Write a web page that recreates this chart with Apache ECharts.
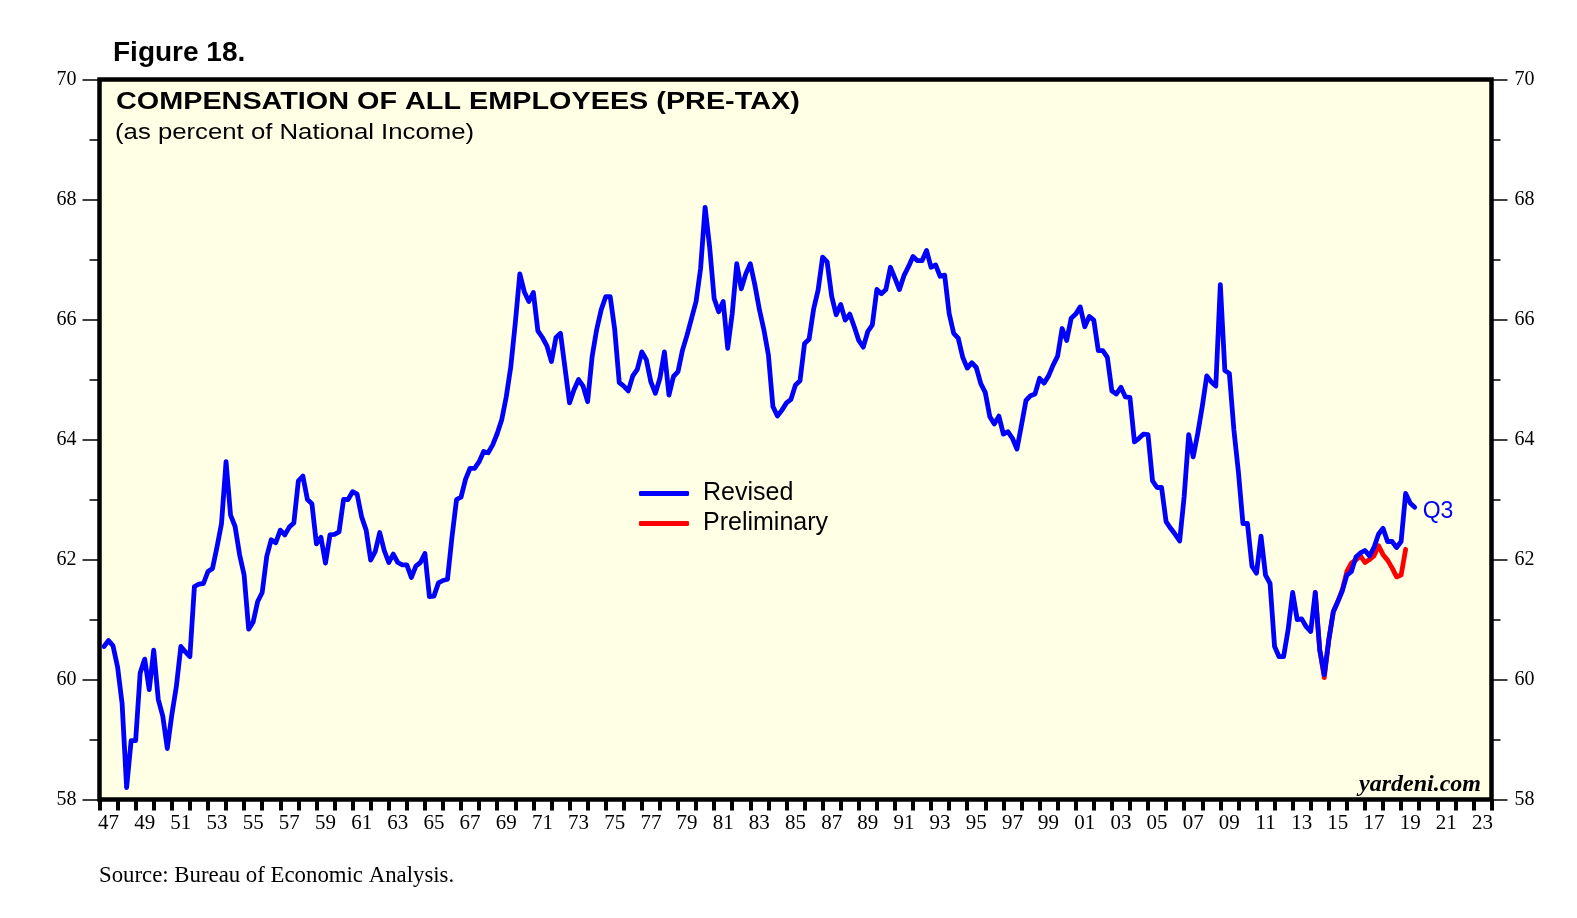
<!DOCTYPE html>
<html><head><meta charset="utf-8">
<script src="https://cdn.jsdelivr.net/npm/echarts@6/dist/echarts.min.js"></script>
<style>html,body{margin:0;padding:0;background:#fff}#c{width:1577px;height:918px}</style>
</head><body><div id="c"></div>
<script>
// Quarterly compensation of employees as % of national income
const startYear = 1947;
const rev1940s = [
  60.55, 60.65, 60.56, 60.21,
  59.60, 58.20, 58.98, 58.98,
  60.11, 60.34, 59.83, 60.49
];
const rev1950s = [
  59.67, 59.39, 58.85, 59.41,
  59.88, 60.55, 60.46, 60.38,
  61.55, 61.59, 61.60, 61.80,
  61.85, 62.21, 62.60, 63.63,
  62.74, 62.55, 62.08, 61.74,
  60.84, 60.96, 61.30, 61.45,
  62.05, 62.33, 62.28, 62.49,
  62.41, 62.54, 62.61, 63.31,
  63.39, 63.00, 62.93, 62.26,
  62.37, 61.94, 62.41, 62.42
];
const rev1960s = [
  62.46, 63.00, 63.00, 63.13,
  63.09, 62.71, 62.49, 61.99,
  62.13, 62.45, 62.15, 61.95,
  62.09, 61.95, 61.91, 61.91,
  61.70, 61.89, 61.95, 62.10,
  61.38, 61.39, 61.61, 61.65,
  61.67, 62.38, 63.00, 63.04,
  63.34, 63.52, 63.52, 63.63,
  63.80, 63.78, 63.91, 64.10,
  64.33, 64.71, 65.21, 65.94
];
const rev1970s = [
  66.76, 66.46, 66.30, 66.45,
  65.81, 65.70, 65.56, 65.30,
  65.70, 65.77, 65.19, 64.61,
  64.83, 65.00, 64.89, 64.63,
  65.38, 65.83, 66.16, 66.38,
  66.38, 65.83, 64.95, 64.89,
  64.81, 65.06, 65.17, 65.46,
  65.33, 64.96, 64.77, 65.02,
  65.46, 64.74, 65.05, 65.13,
  65.49, 65.74, 66.02, 66.30
];
const rev1980s = [
  66.85, 67.87, 67.21, 66.35,
  66.13, 66.30, 65.52, 66.10,
  66.93, 66.51, 66.76, 66.93,
  66.58, 66.17, 65.83, 65.41,
  64.55, 64.39, 64.49, 64.61,
  64.67, 64.91, 64.98, 65.60,
  65.67, 66.17, 66.49, 67.04,
  66.96, 66.39, 66.08, 66.25,
  65.99, 66.09, 65.88, 65.65,
  65.54, 65.80, 65.91, 66.50
];
const rev1990s = [
  66.43, 66.50, 66.87, 66.69,
  66.50, 66.73, 66.88, 67.05,
  66.98, 66.98, 67.15, 66.87,
  66.91, 66.72, 66.74, 66.10,
  65.77, 65.69, 65.37, 65.19,
  65.28, 65.20, 64.93, 64.78,
  64.38, 64.26, 64.39, 64.09,
  64.13, 64.02, 63.84, 64.24,
  64.65, 64.73, 64.76, 65.02,
  64.94, 65.06, 65.24, 65.39
];
const rev2000s = [
  65.85, 65.65, 66.02, 66.09,
  66.21, 65.88, 66.05, 65.99,
  65.48, 65.48, 65.37, 64.81,
  64.76, 64.87, 64.71, 64.70,
  63.96, 64.02, 64.09, 64.08,
  63.31, 63.20, 63.20, 62.63,
  62.52, 62.42, 62.31, 63.05,
  64.08, 63.71, 64.10, 64.55,
  65.06, 64.96, 64.89, 66.58,
  65.15, 65.10, 64.16, 63.46
];
const rev2010s = [
  62.60, 62.60, 61.89, 61.77,
  62.39, 61.74, 61.60, 60.55,
  60.38, 60.38, 60.83, 61.45,
  61.00, 61.01, 60.88, 60.80,
  61.45, 60.49, 60.08, 60.66,
  61.13, 61.30, 61.48, 61.74,
  61.80, 62.04, 62.11, 62.15,
  62.06, 62.20, 62.42, 62.52,
  62.30, 62.30, 62.20, 62.30,
  63.10, 62.94, 62.87
];
// Preliminary estimates, starting 2014 Q1
const prelimStart = { year: 2014, quarter: 1 };
const prelim = [
  61.45, 60.49, 60.03, 60.66,
  61.13, 61.30, 61.50, 61.80,
  61.94, 61.99, 62.06, 61.95,
  62.00, 62.06, 62.23, 62.08,
  61.99, 61.86, 61.71, 61.74,
  62.17
];
const firstTickYear = 1947, lastTickYear = 2023;
const yMin = 58, yMax = 70, yStep = 2;

const revised = [].concat(rev1940s, rev1950s, rev1960s, rev1970s, rev1980s, rev1990s, rev2000s, rev2010s);
const tickYears = [];
for (let y = firstTickYear; y <= lastTickYear; y++) tickYears.push(String(y));

// position each quarter at the end of its quarter on a year-valued axis
function quarterPoints(vals, y0, q0) {
  return vals.map((v, i) => {
    const k = (q0 - 1) + i;
    return [y0 + Math.floor(k / 4) + ((k % 4) + 1) / 4, v];
  });
}
const revPts = quarterPoints(revised, startYear, 1);
const prePts = quarterPoints(prelim, prelimStart.year, prelimStart.quarter);

const SERIF = 'Liberation Serif';
const SANS = 'Liberation Sans';

const chart = echarts.init(document.getElementById('c'), null, { renderer: 'canvas' });
const yAxisBase = (pos, tickLen, minorLen) => ({
  type: 'value', min: yMin, max: yMax, interval: yStep, position: pos,
  axisLine: { show: false },
  axisTick: { show: true, length: tickLen, lineStyle: { color: '#000', width: 1.5 } },
  minorTick: { show: true, splitNumber: 2, length: minorLen, lineStyle: { color: '#000', width: 1.5 } },
  axisLabel: { fontFamily: SERIF, fontSize: 20, color: '#000', margin: 23 },
  splitLine: { show: false }, minorSplitLine: { show: false }
});

chart.setOption({
  backgroundColor: '#ffffff',
  animation: false,
  title: [
    { text: 'Figure 18.', left: 113, top: 39, padding: 0,
      textStyle: { fontFamily: SANS, fontWeight: 'bold', fontSize: 28, color: '#000' } },
    { text: 'Source: Bureau of Economic Analysis.', left: 99, top: 865, padding: 0,
      textStyle: { fontFamily: SERIF, fontWeight: 'normal', fontSize: 22.8, color: '#000' } },
    { text: 'yardeni.com', right: 96, top: 773, padding: 0,
      textStyle: { fontFamily: SERIF, fontWeight: 'bold', fontStyle: 'italic', fontSize: 24, color: '#000' } }
  ],
  graphic: [
    { type: 'text', x: 116, y: 90, scaleX: 1.2, z: 10,
      style: { text: 'COMPENSATION OF ALL EMPLOYEES (PRE-TAX)', font: 'bold 24px "Liberation Sans"',
               fill: '#000', textVerticalAlign: 'top', verticalAlign: 'top' } },
    { type: 'text', x: 115, y: 122, scaleX: 1.17, z: 10,
      style: { text: '(as percent of National Income)', font: '22px "Liberation Sans"',
               fill: '#000', textVerticalAlign: 'top', verticalAlign: 'top' } }
  ],
  legend: {
    data: ['Revised', 'Preliminary'],
    orient: 'vertical', left: 639, top: 481,
    icon: 'roundRect', itemWidth: 50, itemHeight: 5, itemGap: 5,
    padding: 0,
    textStyle: { fontFamily: SANS, fontSize: 25, color: '#000', padding: [0, 0, 0, 9] }
  },
  grid: {
    left: 99.5, right: 85.5, top: 79.5, bottom: 118.5,
    show: true, backgroundColor: '#FFFFE6', borderColor: '#000', borderWidth: 4.5,
    containLabel: false
  },
  xAxis: [
    { type: 'category', data: tickYears, boundaryGap: true, position: 'bottom',
      axisLine: { show: false },
      axisTick: { show: true, interval: 0, length: 11, lineStyle: { color: '#000', width: 4 } },
      axisLabel: { interval: 1, formatter: v => v.slice(2), fontFamily: SERIF, fontSize: 21, color: '#000', margin: 13 },
      splitLine: { show: false } },
    { type: 'value', min: firstTickYear, max: lastTickYear + 1, show: false }
  ],
  yAxis: [ yAxisBase('left', 17, 10), yAxisBase('right', 16, 9) ],
  series: [
    { name: 'Preliminary', type: 'line', xAxisIndex: 1, yAxisIndex: 0, data: prePts,
      showSymbol: false, symbol: 'none', color: '#FF0000', z: 2,
      lineStyle: { color: '#FF0000', width: 4.8, cap: 'round', join: 'round' } },
    { name: 'Revised', type: 'line', xAxisIndex: 1, yAxisIndex: 0, data: revPts,
      showSymbol: false, symbol: 'none', color: '#0000FF', z: 3,
      lineStyle: { color: '#0000FF', width: 4.8, cap: 'round', join: 'round' },
      endLabel: { show: true, formatter: 'Q3', color: '#0000FF', fontFamily: SANS, fontSize: 23, distance: 8, offset: [0, 4] } }
  ]
});
</script></body></html>
